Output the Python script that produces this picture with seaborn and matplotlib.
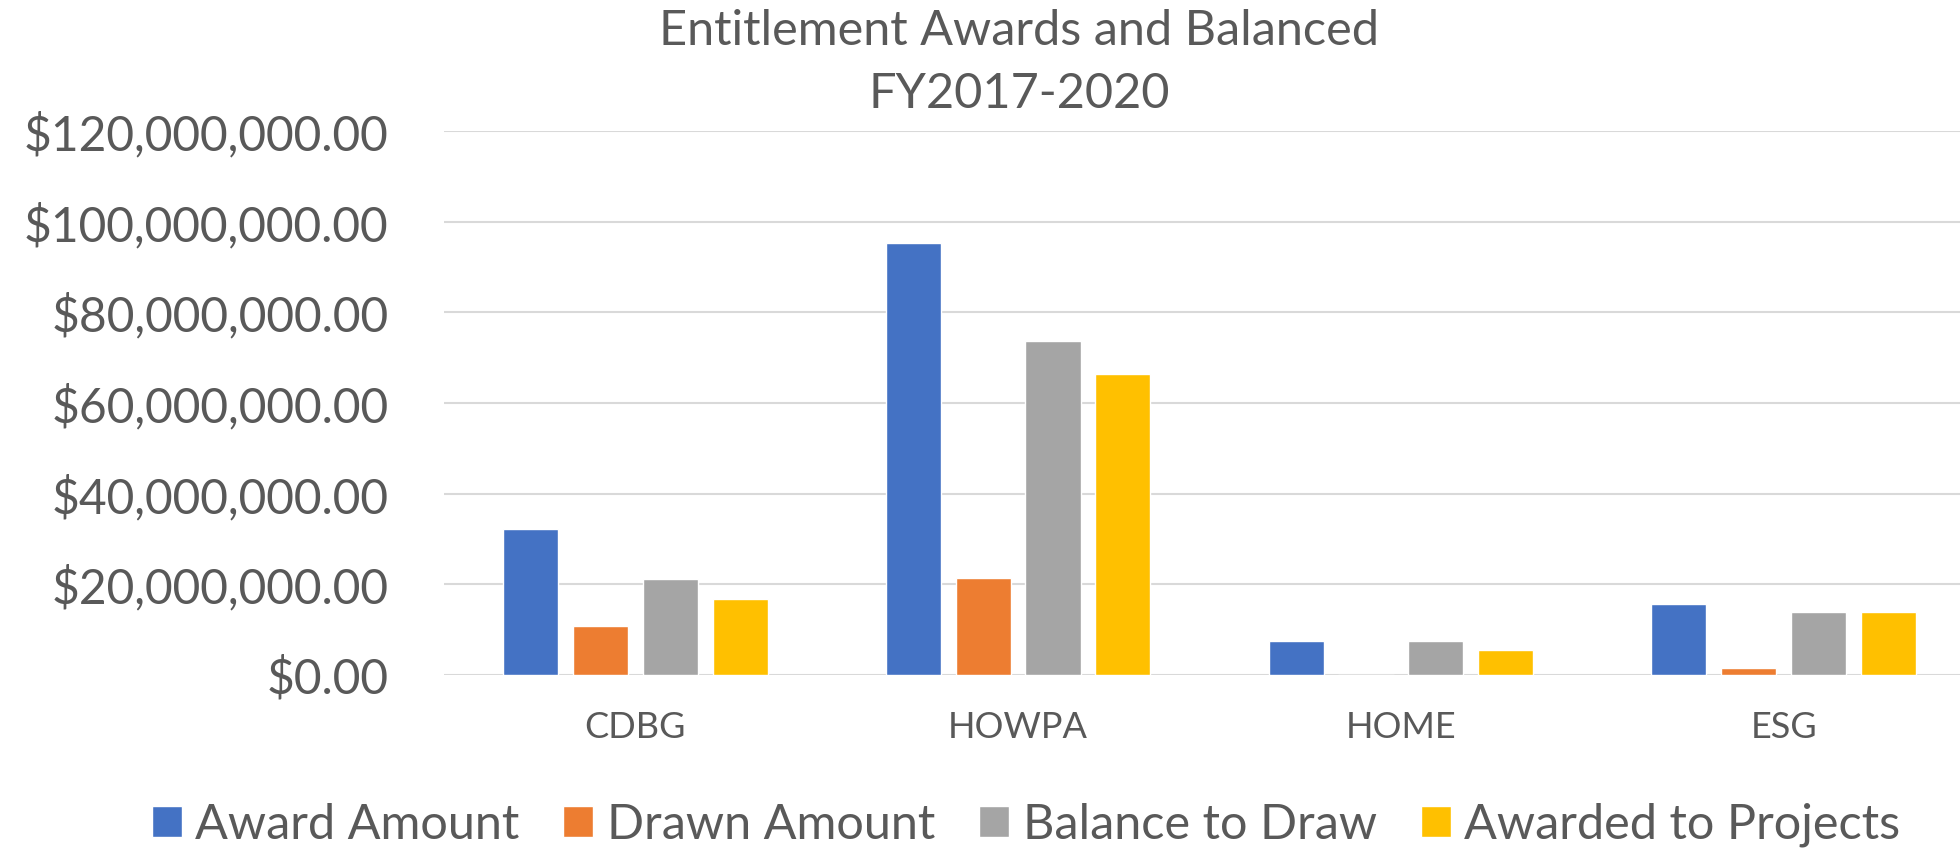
import matplotlib
matplotlib.use("Agg")
import matplotlib.pyplot as plt
import seaborn as sns
import pandas as pd
from matplotlib.ticker import FuncFormatter

categories = ["CDBG", "HOWPA", "HOME", "ESG"]
series = ["Award Amount", "Drawn Amount", "Balance to Draw", "Awarded to Projects"]
award_amount = [32.1e6, 95.2e6, 7.6e6, 15.7e6]
drawn_amount = [10.9e6, 21.4e6, 0.0, 1.5e6]
balance_to_draw = [21.1e6, 73.6e6, 7.6e6, 14.0e6]
awarded_to_projects = [16.7e6, 66.5e6, 5.6e6, 14.0e6]
colors = ["#4472C4", "#ED7D31", "#A5A5A5", "#FFC000"]

rows = []
for s, vals in zip(series, [award_amount, drawn_amount, balance_to_draw, awarded_to_projects]):
    for c, v in zip(categories, vals):
        rows.append({"Program": c, "Series": s, "Value": v})
df = pd.DataFrame(rows)

sns.set_theme(style="white")
plt.rcParams["font.family"] = ["Lato", "DejaVu Sans"]
txt = "#595959"

fig = plt.figure(figsize=(19.6, 8.5), dpi=100)
ax = fig.add_axes([444 / 1960, 1 - 675 / 850, (1975 - 444) / 1960, (675 - 131) / 850])

sns.barplot(data=df, x="Program", y="Value", hue="Series", order=categories,
            hue_order=series, palette=colors, width=0.73, gap=0.21,
            saturation=1, ax=ax, legend=True)

ax.set_ylim(0, 120e6)
ax.set_yticks([i * 20e6 for i in range(7)])
ax.yaxis.set_major_formatter(FuncFormatter(lambda v, p: "${:,.2f}".format(v)))
ax.grid(axis="y", color="#D9D9D9", linewidth=1.5)
ax.set_axisbelow(True)
for sp in ax.spines.values():
    sp.set_visible(False)
ax.set_xlabel("")
ax.set_ylabel("")
ax.tick_params(axis="y", labelsize=34.5, colors=txt, length=0, pad=40)
ax.tick_params(axis="x", labelsize=26, colors=txt, length=0, pad=26)

handles, labels = ax.get_legend_handles_labels()
ax.get_legend().remove()
fig.legend(handles, labels, loc="center", bbox_to_anchor=(1026 / 1960, 1 - 825 / 850),
           ncol=4, frameon=False, fontsize=35, labelcolor=txt,
           handlelength=0.62, handleheight=0.62, handletextpad=0.28, columnspacing=0.9)

fig.text(1019 / 1960, 1 - 31 / 850, "Entitlement Awards and Balanced",
         ha="center", va="center", fontsize=35, color=txt)
fig.text(1019 / 1960, 1 - 94 / 850, "FY2017-2020",
         ha="center", va="center", fontsize=35, color=txt)

fig.savefig("out.png", dpi=100)
